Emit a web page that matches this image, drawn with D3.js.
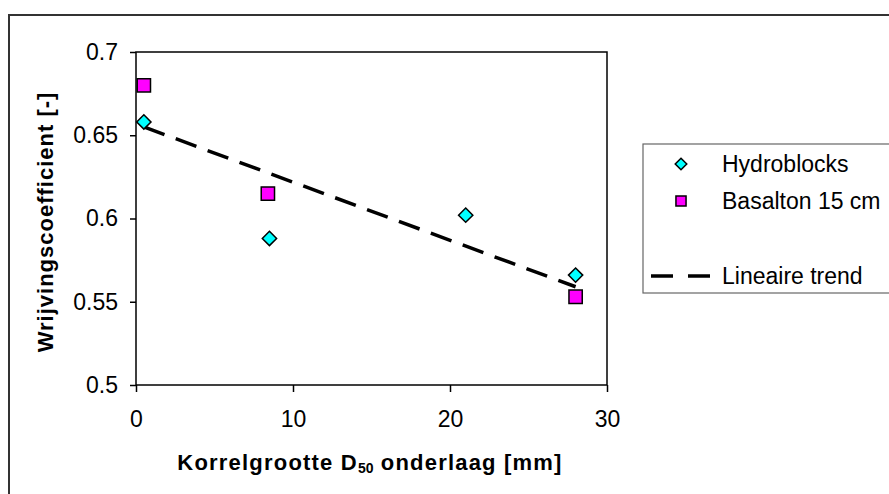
<!DOCTYPE html>
<html>
<head>
<meta charset="utf-8">
<script src="https://cdn.jsdelivr.net/npm/d3@7"></script>
<style>
  body { margin: 0; background: #fff; }
  svg text { font-family: "Liberation Sans", Arial, sans-serif; fill: #000; }
</style>
</head>
<body>
<div id="chart"></div>
<script>
// values
var hydroX = [0.5, 8.5, 21, 28];
var hydroY = [0.658, 0.588, 0.602, 0.566];
var basaltX = [0.5, 8.4, 28];
var basaltY = [0.680, 0.615, 0.553];
var trendX = [0.5, 28];
var trendY = [0.655, 0.559];
var xTicks = [0, 10, 20, 30];
var yTicks = [0.5, 0.55, 0.6, 0.65, 0.7];
var legendLabels = ["Hydroblocks", "Basalton 15 cm", "Lineaire trend"];

function init() {
    var w = 889;
    var h = 494;
    var svg = d3.select("#chart").append("svg")
        .attr("width", w)
        .attr("height", h);

    var left = 136, right = 607, top = 52, bottom = 385;

    var xScale = d3.scaleLinear().domain([0, 30]).range([left, right]);
    var yScale = d3.scaleLinear().domain([0.5, 0.7]).range([bottom, top]);

    // outer chart frame (runs off the page on the right and bottom)
    svg.append("rect")
        .attr("x", 9).attr("y", 15)
        .attr("width", 1000).attr("height", 600)
        .attr("fill", "none")
        .attr("stroke", "#333")
        .attr("stroke-width", 2);

    // plot area box
    svg.append("rect")
        .attr("x", left).attr("y", top)
        .attr("width", right - left).attr("height", bottom - top)
        .attr("fill", "none")
        .attr("stroke", "#000")
        .attr("stroke-width", 1.5);

    var xAxis = d3.axisBottom(xScale).tickValues(xTicks)
        .tickSize(7).tickPadding(19).tickFormat(d3.format("~g"));
    var yAxis = d3.axisLeft(yScale).tickValues(yTicks)
        .tickSize(6).tickPadding(12).tickFormat(d3.format("~g"));

    var gx = svg.append("g")
        .attr("transform", `translate(0,${bottom})`)
        .call(xAxis);
    var gy = svg.append("g")
        .attr("transform", `translate(${left},0)`)
        .call(yAxis);

    [gx, gy].forEach(g => {
        g.select(".domain").remove();
        g.selectAll(".tick line").attr("stroke", "#000").attr("stroke-width", 1.5);
        g.selectAll(".tick text")
            .attr("font-family", '"Liberation Sans", Arial, sans-serif')
            .attr("font-size", 23)
            .attr("fill", "#000");
    });

    // linear trend
    var trend = trendX.map((x, i) => [x, trendY[i]]);
    svg.append("path")
        .attr("d", d3.line().x(d => xScale(d[0])).y(d => yScale(d[1]))(trend))
        .attr("fill", "none")
        .attr("stroke", "#000")
        .attr("stroke-width", 3.5)
        .attr("stroke-dasharray", "22,12");

    var diamond = d3.symbol().type(d3.symbolDiamond2);
    var square = d3.symbol().type(d3.symbolSquare2);

    // Hydroblocks
    svg.selectAll(".hydro")
        .data(hydroX.map((x, i) => [x, hydroY[i]]))
        .enter().append("path")
        .attr("class", "hydro")
        .attr("transform", d => `translate(${xScale(d[0])},${yScale(d[1])})`)
        .attr("d", diamond.size(130)())
        .attr("fill", "#00ffff")
        .attr("stroke", "#000")
        .attr("stroke-width", 1.5);

    // Basalton
    svg.selectAll(".basalt")
        .data(basaltX.map((x, i) => [x, basaltY[i]]))
        .enter().append("path")
        .attr("class", "basalt")
        .attr("transform", d => `translate(${xScale(d[0])},${yScale(d[1])})`)
        .attr("d", square.size(225)())
        .attr("fill", "#ff00ff")
        .attr("stroke", "#000")
        .attr("stroke-width", 1.5);

    // axis titles
    var xt = svg.append("text")
        .attr("x", 370).attr("y", 470)
        .attr("text-anchor", "middle")
        .attr("font-size", 22)
        .attr("font-weight", "bold")
        .attr("letter-spacing", 1.2);
    xt.append("tspan").text("Korrelgrootte D");
    xt.append("tspan").attr("font-size", 14).attr("letter-spacing", 0).attr("dy", 3).text("50");
    xt.append("tspan").attr("dy", -3).text(" onderlaag [mm]");

    svg.append("text")
        .attr("transform", "translate(53,222) rotate(-90)")
        .attr("text-anchor", "middle")
        .attr("font-size", 22)
        .attr("font-weight", "bold")
        .attr("letter-spacing", 1)
        .text("Wrijvingscoefficient [-]");

    // legend
    var lg = svg.append("g");
    lg.append("rect")
        .attr("x", 643).attr("y", 144)
        .attr("width", 300).attr("height", 149)
        .attr("fill", "#fff")
        .attr("stroke", "#666")
        .attr("stroke-width", 1.2);

    lg.append("path")
        .attr("transform", "translate(681,164)")
        .attr("d", diamond.size(85)())
        .attr("fill", "#00ffff").attr("stroke", "#000").attr("stroke-width", 1.5);
    lg.append("path")
        .attr("transform", "translate(681,201)")
        .attr("d", square.size(130)())
        .attr("fill", "#ff00ff").attr("stroke", "#000").attr("stroke-width", 1.5);
    lg.append("line")
        .attr("x1", 651).attr("x2", 712)
        .attr("y1", 276).attr("y2", 276)
        .attr("stroke", "#000").attr("stroke-width", 3.5)
        .attr("stroke-dasharray", "22,15");

    var baselines = [172, 209, 284];
    lg.selectAll(".ltext")
        .data(legendLabels)
        .enter().append("text")
        .attr("class", "ltext")
        .attr("x", 722)
        .attr("y", (d, i) => baselines[i])
        .attr("font-size", 23)
        .text(d => d);
}

window.onload = init;
</script>
</body>
</html>
